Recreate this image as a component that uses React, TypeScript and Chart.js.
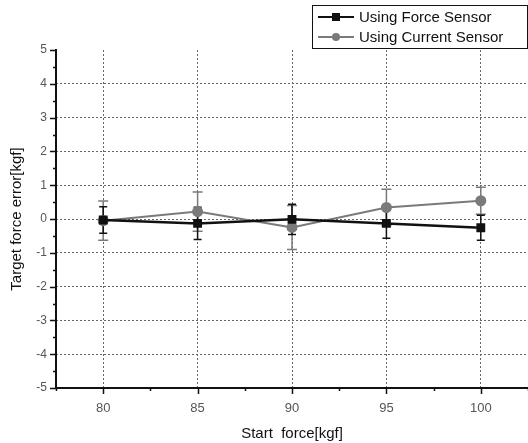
import React, { useEffect, useRef } from 'react';
import { Chart, registerables } from 'chart.js';
Chart.register(...registerables);

const startForce = [80, 85, 90, 95, 100];
const forceSensor = [-0.03, -0.13, -0.01, -0.13, -0.26];
const forceSensorErr = [0.39, 0.48, 0.45, 0.44, 0.37];
const currentSensor = [-0.05, 0.22, -0.25, 0.34, 0.54];
const currentSensorErr = [0.58, 0.58, 0.65, 0.54, 0.4];
const xTicks = [80, 85, 90, 95, 100];
const yTicks = [-5, -4, -3, -2, -1, 0, 1, 2, 3, 4, 5];
const seriesNames = ['Using Force Sensor', 'Using Current Sensor'];

const FONT = '"Liberation Sans", Arial, sans-serif';
const BLACK = '#111111';
const GRAY = '#7a7a7a';
const TICKGRAY = '#555555';
const GRIDGRAY = '#666666';

const errorBars = {
  id: 'errorBars',
  beforeDatasetsDraw(chart: any) {
    const { ctx, scales } = chart;
    const x = scales.x, y = scales.y;
    const sets = [
      { v: currentSensor, e: currentSensorErr, c: GRAY, cap: 5 },
      { v: forceSensor, e: forceSensorErr, c: BLACK, cap: 4 },
    ];
    ctx.save();
    sets.forEach((s) => {
      ctx.strokeStyle = s.c;
      ctx.lineWidth = 1.5;
      s.v.forEach((val, i) => {
        const px = x.getPixelForValue(startForce[i]);
        const top = y.getPixelForValue(val + s.e[i]);
        const bot = y.getPixelForValue(val - s.e[i]);
        ctx.beginPath();
        ctx.moveTo(px, top); ctx.lineTo(px, bot);
        ctx.moveTo(px - s.cap, top); ctx.lineTo(px + s.cap, top);
        ctx.moveTo(px - s.cap, bot); ctx.lineTo(px + s.cap, bot);
        ctx.stroke();
      });
    });
    ctx.restore();
  },
};

const axesPlugin = {
  id: 'axesPlugin',
  afterDraw(chart: any) {
    const { ctx, scales, chartArea } = chart;
    const x = scales.x, y = scales.y;
    ctx.save();
    ctx.strokeStyle = BLACK;
    ctx.lineWidth = 2;
    ctx.beginPath();
    ctx.moveTo(chartArea.left, chartArea.top - 1);
    ctx.lineTo(chartArea.left, chartArea.bottom);
    ctx.lineTo(chartArea.right, chartArea.bottom);
    ctx.stroke();
    ctx.lineWidth = 1.5;
    ctx.beginPath();
    for (let v = -5; v <= 5.001; v += 0.5) {
      const py = Math.round(y.getPixelForValue(v)) + 0.5;
      const len = Math.abs(v - Math.round(v)) < 0.01 ? 6 : 3;
      ctx.moveTo(chartArea.left, py);
      ctx.lineTo(chartArea.left - len, py);
    }
    for (let v = 77.5; v <= 102.6; v += 2.5) {
      const px = Math.round(x.getPixelForValue(v)) + 0.5;
      const len = Math.abs(v % 5) < 0.01 ? 6 : 3;
      ctx.moveTo(px, chartArea.bottom);
      ctx.lineTo(px, chartArea.bottom + len);
    }
    ctx.stroke();

    // legend
    const lx = 312.5, ly = 5.5, lw = 215, lh = 43;
    ctx.fillStyle = '#ffffff';
    ctx.fillRect(lx, ly, lw, lh);
    ctx.lineWidth = 1;
    ctx.strokeStyle = BLACK;
    ctx.strokeRect(lx, ly, lw, lh);
    const rows = [
      { name: seriesNames[0], c: BLACK, shape: 'rect', y: 17 },
      { name: seriesNames[1], c: GRAY, shape: 'circle', y: 37 },
    ];
    rows.forEach((r) => {
      ctx.strokeStyle = r.c;
      ctx.fillStyle = r.c;
      ctx.lineWidth = 2;
      ctx.beginPath();
      ctx.moveTo(318, r.y); ctx.lineTo(354, r.y);
      ctx.stroke();
      ctx.beginPath();
      if (r.shape === 'rect') ctx.rect(332, r.y - 4, 8, 8);
      else ctx.arc(336, r.y, 4, 0, Math.PI * 2);
      ctx.fill();
      ctx.fillStyle = BLACK;
      ctx.font = '15px ' + FONT;
      ctx.textBaseline = 'middle';
      ctx.textAlign = 'left';
      ctx.fillText(r.name, 359, r.y + 1);
    });
    ctx.restore();
  },
};

export default function App() {
  const ref = useRef<HTMLCanvasElement>(null);
  useEffect(() => {
    const chart = new Chart(ref.current as HTMLCanvasElement, {
      type: 'line',
      data: {
        datasets: [
          {
            label: seriesNames[0],
            data: startForce.map((v, i) => ({ x: v, y: forceSensor[i] })),
            borderColor: BLACK,
            backgroundColor: BLACK,
            borderWidth: 2.5,
            pointStyle: 'rect',
            pointRadius: 4.5,
            order: 0,
          },
          {
            label: seriesNames[1],
            data: startForce.map((v, i) => ({ x: v, y: currentSensor[i] })),
            borderColor: GRAY,
            backgroundColor: GRAY,
            borderWidth: 2,
            pointStyle: 'circle',
            pointRadius: 4.5,
            order: 1,
          },
        ],
      },
      plugins: [errorBars, axesPlugin],
      options: {
        animation: false,
        responsive: false,
        layout: { autoPadding: false, padding: { top: 50, right: 0, left: 0, bottom: 0 } },
        plugins: { legend: { display: false }, tooltip: { enabled: false } },
        scales: {
          x: {
            type: 'linear',
            min: 77.5,
            max: 102.5,
            afterBuildTicks: (s: any) => { s.ticks = xTicks.map((v) => ({ value: v })); },
            afterFit: (s: any) => { s.height = 55; s.paddingRight = 0; s.paddingLeft = 0; },
            grid: {
              color: GRIDGRAY,
              lineWidth: 1,
              drawTicks: false,
            },
            border: { display: false, dash: [2, 2] },
            ticks: { color: TICKGRAY, font: { family: FONT, size: 13 }, padding: 13 },
            title: {
              display: true,
              text: 'Start  force[kgf]',
              color: BLACK,
              font: { family: FONT, size: 15 },
              padding: { top: 3, bottom: 0 },
            },
          },
          y: {
            type: 'linear',
            min: -5,
            max: 5,
            afterBuildTicks: (s: any) => { s.ticks = yTicks.map((v) => ({ value: v })); },
            afterFit: (s: any) => { s.width = 56; },
            grid: {
              color: (c: any) => (Math.abs(c.tick?.value) === 5 ? 'rgba(0,0,0,0)' : GRIDGRAY),
              lineWidth: 1,
              drawTicks: false,
            },
            border: { display: false, dash: [2, 2] },
            ticks: { color: TICKGRAY, font: { family: FONT, size: 12 }, padding: 9 },
            title: {
              display: true,
              text: 'Target force error[kgf]',
              color: BLACK,
              font: { family: FONT, size: 15 },
              padding: { top: 8, bottom: 2 },
            },
          },
        },
      } as any,
    });
    return () => chart.destroy();
  }, []);
  return (
    <div style={{ position: 'fixed', left: 0, top: 0, width: 528, height: 443, background: '#fff' }}>
      <canvas ref={ref} width={528} height={443} style={{ width: 528, height: 443 }} />
    </div>
  );
}
